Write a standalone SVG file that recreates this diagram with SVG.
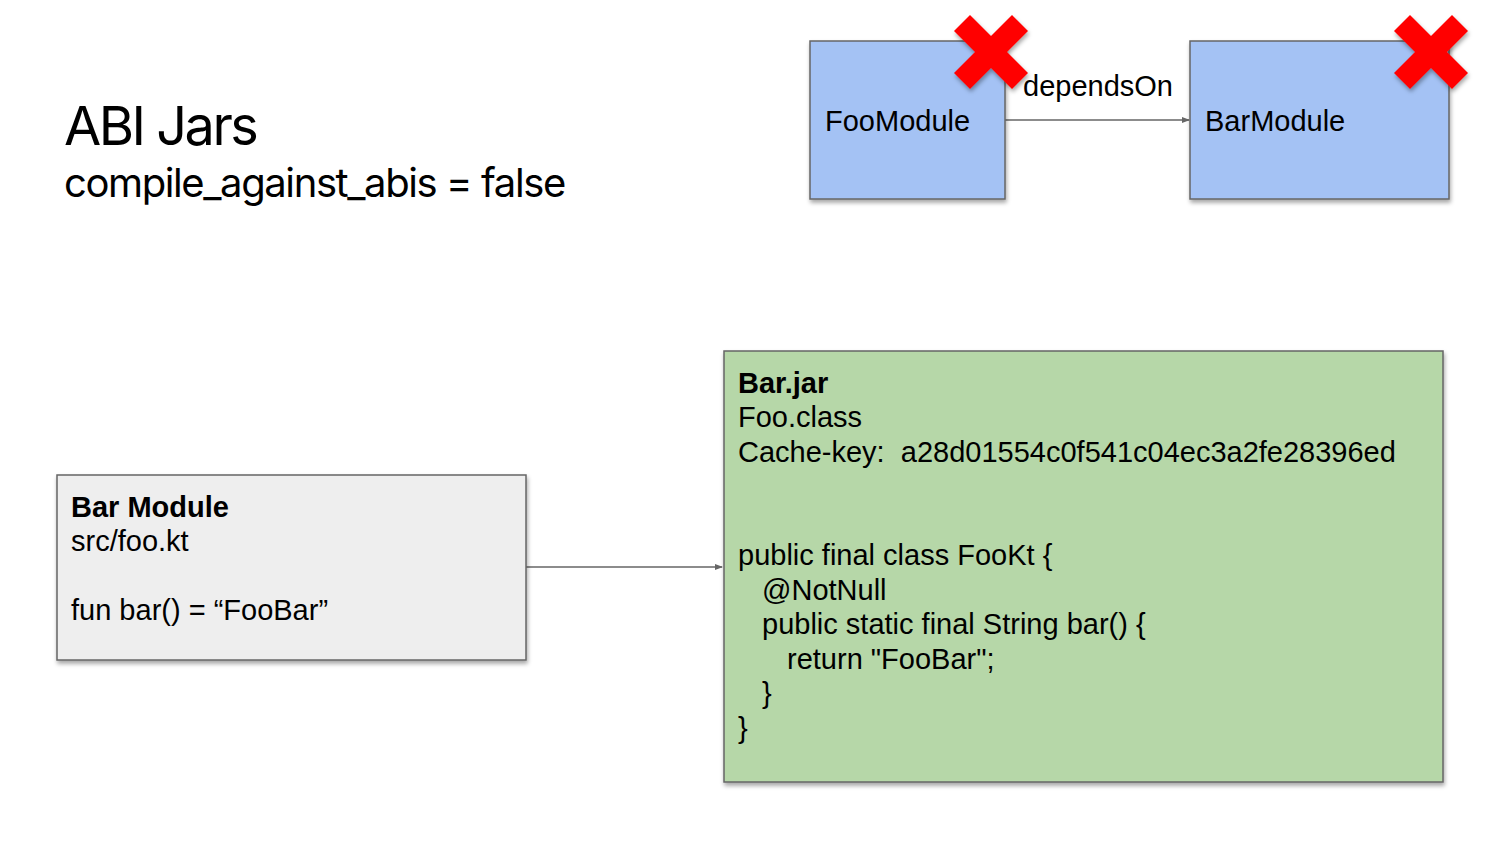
<svg xmlns="http://www.w3.org/2000/svg" width="1500" height="844" viewBox="0 0 1500 844">
<style>
.t{font-family:"Liberation Sans",Arial,sans-serif;font-size:29px;fill:#000}
.b{font-weight:bold}
.h{font-family:Inter,"Open Sans",sans-serif;fill:#000}
.box{stroke:#666;stroke-width:1.5}
.conn{stroke:#666;stroke-width:1.3;fill:none}
</style>
<defs>
<filter id="sh" x="-10%" y="-10%" width="120%" height="130%">
<feDropShadow dx="1" dy="3" stdDeviation="2" flood-color="#000" flood-opacity="0.35"/>
</filter>
<marker id="ah" markerWidth="8" markerHeight="6" refX="7" refY="3" orient="auto" markerUnits="userSpaceOnUse">
<path d="M0,0 L8,3 L0,6 Z" fill="#666"/>
</marker>
<path id="xm" d="M-37,-21 L-21,-37 L0,-16 L21,-37 L37,-21 L16,0 L37,21 L21,37 L0,16 L-21,37 L-37,21 L-16,0 Z" fill="#ff0000"/>
</defs>
<rect width="1500" height="844" fill="#fff"/>
<g id="title">
<text class="h" x="64" y="145" font-size="54" letter-spacing="-2.5">ABI Jars</text>
<text class="h" x="64" y="197" font-size="40" letter-spacing="-1.4">compile_against_abis = false</text>
</g>
<g id="connectors">
<line class="conn" x1="1005" y1="120" x2="1189" y2="120" marker-end="url(#ah)"/>
<text class="t" x="1023" y="96">dependsOn</text>
<line class="conn" x1="526" y1="567" x2="722" y2="567" marker-end="url(#ah)"/>
</g>
<g id="fooModule">
<rect class="box" x="810" y="41" width="195" height="158" fill="#a4c2f4" filter="url(#sh)"/>
<text class="t" x="825" y="131">FooModule</text>
<use href="#xm" x="991" y="52" filter="url(#sh)"/>
</g>
<g id="barModuleTop">
<rect class="box" x="1190" y="41" width="259" height="158" fill="#a4c2f4" filter="url(#sh)"/>
<text class="t" x="1205" y="131">BarModule</text>
<use href="#xm" x="1431" y="52" filter="url(#sh)"/>
</g>
<g id="barModule">
<rect class="box" x="57" y="475" width="469" height="185" fill="#eeeeee" filter="url(#sh)"/>
<text class="t b" x="71" y="517">Bar Module</text>
<text class="t" x="71" y="551">src/foo.kt</text>
<text class="t" x="71" y="620">fun bar() = “FooBar”</text>
</g>
<g id="barJar">
<rect class="box" x="724" y="351" width="719" height="431" fill="#b6d7a8" filter="url(#sh)"/>
<text class="t b" x="738" y="393">Bar.jar</text>
<text class="t" x="738" y="427">Foo.class</text>
<text class="t" x="738" y="462" xml:space="preserve">Cache-key:  a28d01554c0f541c04ec3a2fe28396ed</text>
<text class="t" x="738" y="565">public final class FooKt {</text>
<text class="t" x="762" y="600">@NotNull</text>
<text class="t" x="762" y="634">public static final String bar() {</text>
<text class="t" x="787" y="669">return "FooBar";</text>
<text class="t" x="762" y="703">}</text>
<text class="t" x="738" y="738">}</text>
</g>
</svg>
